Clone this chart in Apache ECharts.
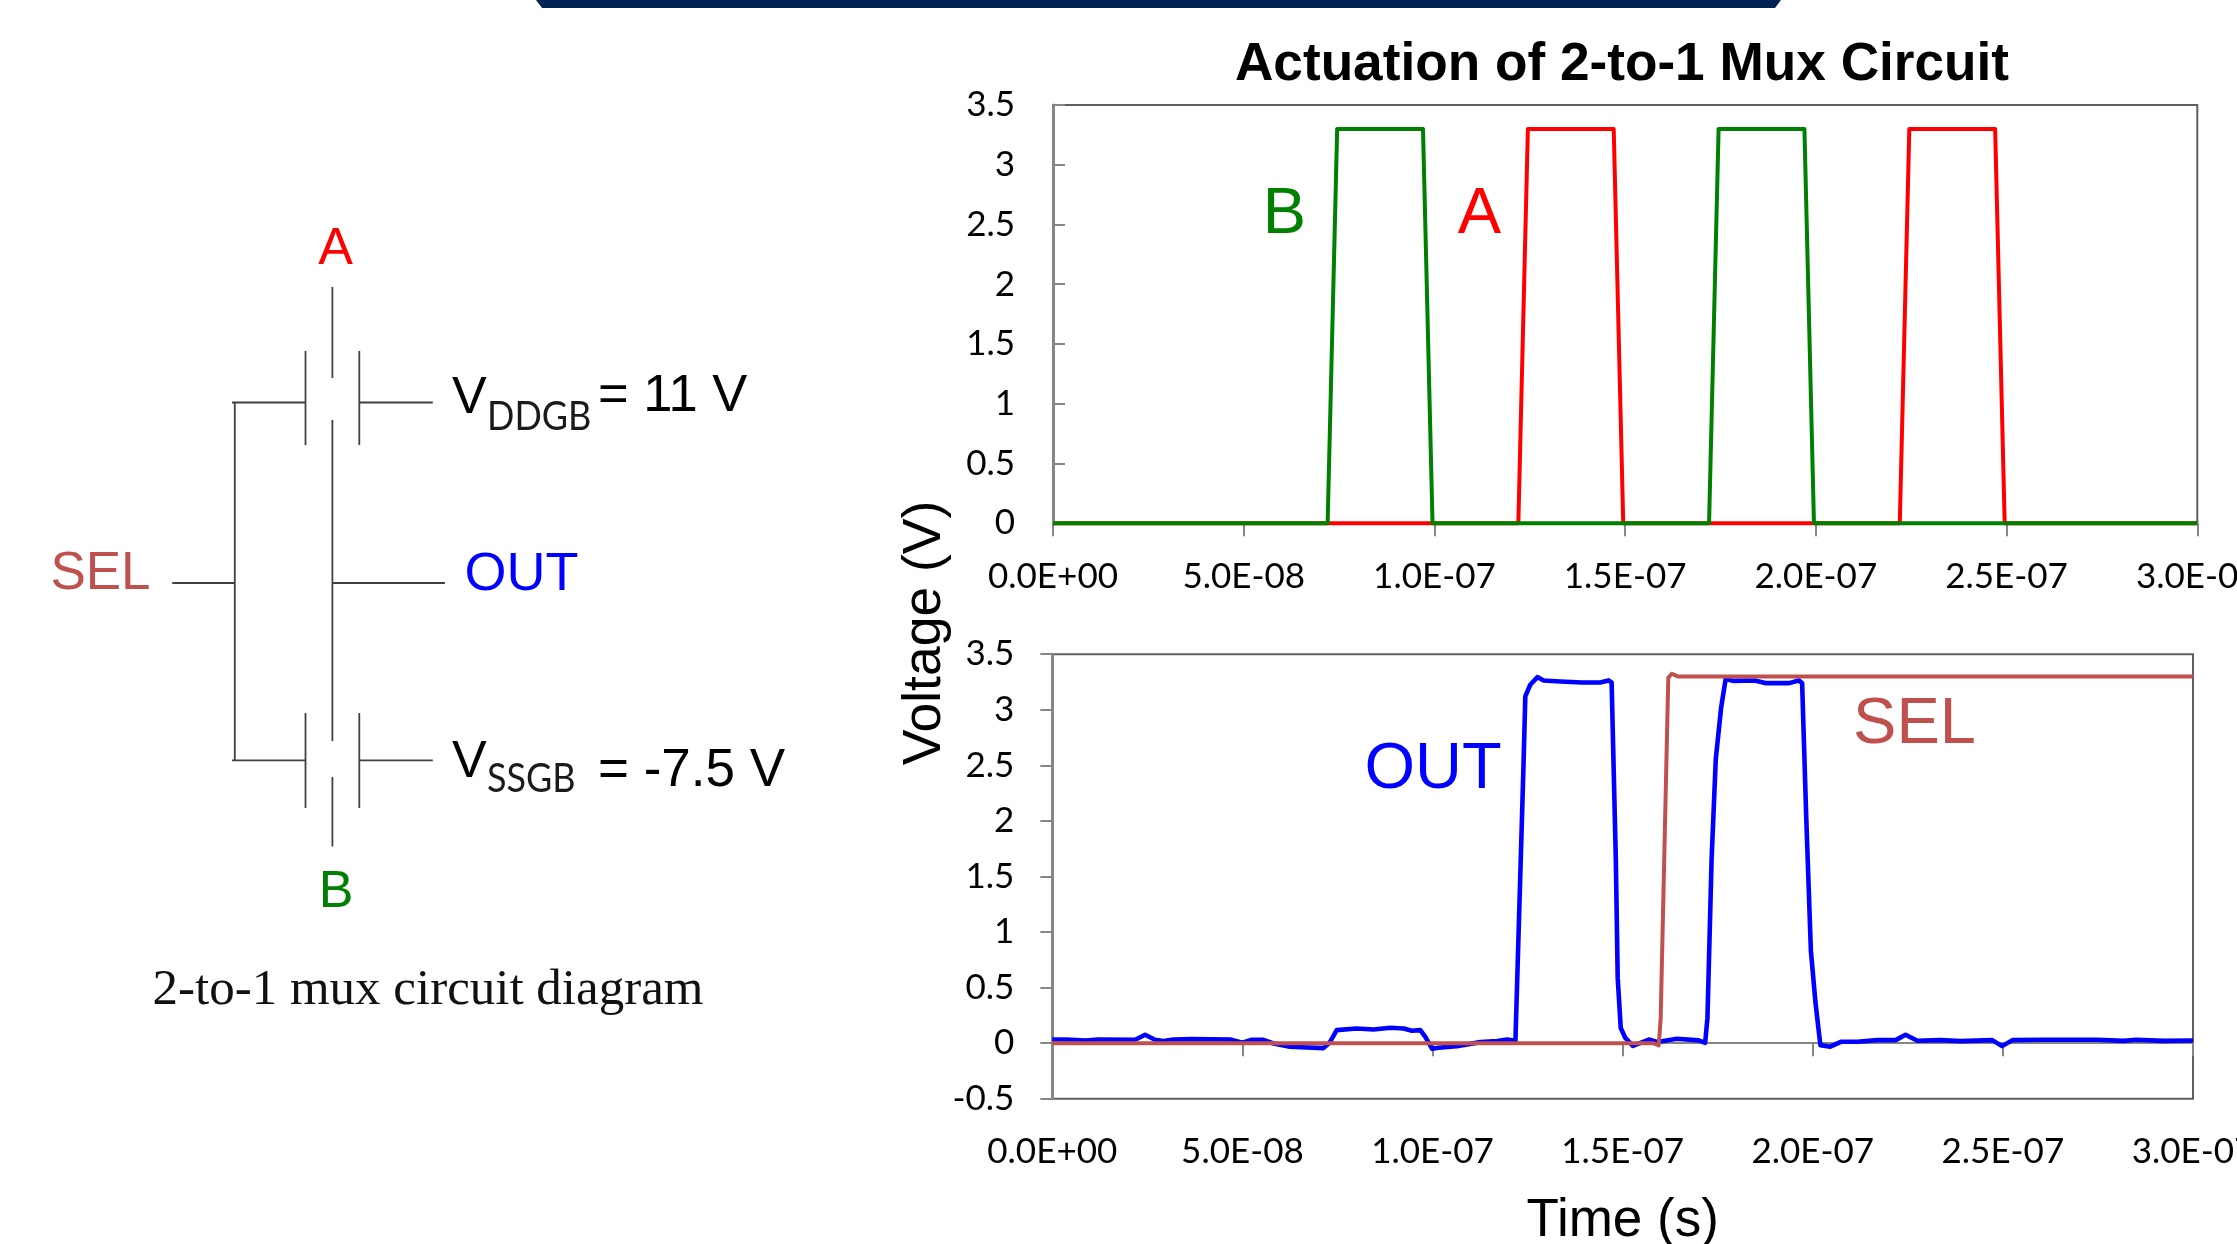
<!DOCTYPE html>
<html><head><meta charset="utf-8">
<style>html,body{margin:0;padding:0;background:#fff;overflow:hidden}#c{width:2237px;height:1244px}</style>
<script src="https://cdn.jsdelivr.net/npm/echarts@6/dist/echarts.min.js"></script>
</head><body><div id="c"></div>
<script>
// time in ns, voltage in V
const xTickLabels = ['0.0E+00','5.0E-08','1.0E-07','1.5E-07','2.0E-07','2.5E-07','3.0E-07'];
const timeA = [0,122,124.5,147,149.5,222,224.5,247,249.5,300];
const voltA = [0,0,3.3,3.3,0,0,3.3,3.3,0,0];
const timeB = [0,72,74.5,97,99.5,172,174.5,197,199.5,300];
const voltB = [0,0,3.3,3.3,0,0,3.3,3.3,0,0];
const timeOut = [0,3.8,8.6,12.1,21.8,24.4,27,29.2,31.9,36.7,46.8,50,52.5,55.5,58.2,62.5,71.3,72.9,74.8,80,84.5,88.9,92.4,94.6,96.8,98.1,99.9,101.6,106.4,112.6,117,119.6,121.8,123.9,124.4,125.7,127.6,129.2,133.6,139.3,144.1,146.3,147.1,148.2,148.7,149.5,150.7,152.7,156.9,159.1,164.3,170,171.7,172.3,173.4,174.5,175.9,177.1,179,184.7,187.5,193.8,196.3,197.2,198.3,199.5,200.7,202,204.6,207.4,211.7,217,221.8,224.4,227.5,233.6,238.9,247.2,249.8,252.5,259.9,274.8,281.8,285,292.3,300];
const voltOut = [.033,.033,.024,.033,.03,.075,.03,.02,.033,.036,.033,.003,.03,.03,-.003,-.033,-.045,.003,.117,.132,.123,.138,.132,.111,.117,.057,-.051,-.042,-.027,.009,.018,.033,.021,2.47,3.12,3.225,3.294,3.264,3.255,3.246,3.246,3.264,3.246,1.66,.585,.136,.047,-.025,.032,.011,.04,.025,.003,.225,1.66,2.56,3.02,3.277,3.26,3.264,3.24,3.24,3.264,3.24,2.016,.834,.369,-.018,-.032,.012,.012,.027,.027,.075,.021,.027,.018,.027,-.027,.027,.03,.03,.02,.03,.02,.024];
const timeSel = [0,158,159.5,160,162,162.9,164.5,300];
const voltSel = [0,0,-.02,.225,3.288,3.324,3.3,3.3];

const C = {a:'#ff0000', b:'#008000', out:'#0000ff', sel:'#c0504d', axis:'#868686', frame:'#5f5f5f', wire:'#404040'};
const SANS = '"Liberation Sans"', TICK = 'Lato';
const zip = (t,v) => t.map((x,i)=>[x,v[i]]);
const xLabel = v => xTickLabels[Math.round(v/50)];
const line = (name,t,v,color,xi,yi,width) => ({name,type:'line',xAxisIndex:xi,yAxisIndex:yi,data:zip(t,v),symbol:'none',clip:false,animation:false,silent:true,lineStyle:{color,width,cap:'butt',join:'round'}});
const label = {color:'#000',fontFamily:TICK,fontSize:35};
const xBase = {type:'value',min:0,max:300,interval:50,splitLine:{show:false}};
const yBase = {type:'value',interval:0.5,splitLine:{show:false}};

const txt = (s,x,y,size,color,extra={}) => ({type:'text',x,y,silent:true,rotation:extra.rotation||0,style:{text:s,fill:color,font:`${extra.weight||'normal'} ${size}px ${extra.family||SANS}`,textAlign:extra.align||'center',textVerticalAlign:'middle',textBaseline:'middle'},scaleX:extra.sx||1,scaleY:extra.sy||1});
const seg = (x1,y1,x2,y2) => ({type:'line',silent:true,shape:{x1,y1,x2,y2},style:{stroke:C.wire,lineWidth:1.8}});

const graphic = [
  {type:'polygon',silent:true,shape:{points:[[536,0],[542,8],[1775,8],[1781,0]]},style:{fill:'#002554'}},
  // schematic
  seg(332.4,287,332.4,378), seg(332.4,420,332.4,741), seg(332.4,777,332.4,846.5),
  seg(305.5,351,305.5,445), seg(359.3,351,359.3,445),
  seg(305.5,713,305.5,808), seg(359.3,713,359.3,808),
  seg(232,402.5,305.5,402.5), seg(359.3,402.5,432.8,402.5),
  seg(232,760.3,305.5,760.3), seg(359.3,760.3,432.8,760.3),
  seg(234.8,402.5,234.8,760.3), seg(172.2,583,234.8,583), seg(332.4,583,444.9,583),
  txt('A',335.7,250,52,C.a), txt('B',336,893,52,C.b),
  txt('SEL',100.5,574,53,C.sel), txt('OUT',521.5,575,54,C.out),
  txt('V',452,399,52,'#000',{align:'left'}), txt('DDGB',487,417,36,'#1a1a1a',{align:'left',family:TICK,sy:1.15}),
  txt('= 11 V',598,396.5,52.5,'#000',{align:'left'}),
  txt('V',452,762.5,52,'#000',{align:'left'}), txt('SSGB',487,779,36,'#1a1a1a',{align:'left',family:TICK,sy:1.15}),
  txt('= -7.5 V',598,771,53,'#000',{align:'left'}),
  txt('2-to-1 mux circuit diagram',428,991,51,'#111',{family:'"Liberation Serif"'}),
  // inline series labels
  txt('B',1284.5,215,65,C.b), txt('A',1479.5,215,65,C.a),
  txt('OUT',1433,770,65,C.out), txt('SEL',1914.5,725,65,C.sel),
  txt('Voltage (V)',925,633,53.5,'#000',{rotation:Math.PI/2})
];

const option = {
  backgroundColor:'#fff', animation:false,
  title:{text:'Actuation of 2-to-1 Mux Circuit',left:1617,top:60,textAlign:'center',textVerticalAlign:'middle',textStyle:{fontFamily:SANS,fontWeight:'bold',fontSize:53.2,color:'#000'}},
  grid:[
    {left:1053,top:105,width:1144.3,height:418.2,show:true,borderColor:C.frame,borderWidth:2,backgroundColor:'transparent',outerBoundsMode:'none',containLabel:false},
    {left:1052.3,top:654.2,width:1140.7,height:444.5,show:true,borderColor:C.frame,borderWidth:2,backgroundColor:'transparent',outerBoundsMode:'none',containLabel:false}
  ],
  xAxis:[
    {...xBase,gridIndex:0,axisLine:{show:true,lineStyle:{color:C.axis,width:2}},axisTick:{show:true,length:13,lineStyle:{color:C.axis,width:2}},
      axisLabel:{...label,margin:36,formatter:xLabel,showMinLabel:true,showMaxLabel:true,hideOverlap:false}},
    {...xBase,gridIndex:1,axisLine:{show:true,onZero:true,lineStyle:{color:C.axis,width:2}},axisTick:{show:true,length:13,lineStyle:{color:C.axis,width:2}},axisLabel:{show:false}},
    {...xBase,gridIndex:1,position:'bottom',axisLine:{show:false,onZero:false},axisTick:{show:false},
      axisLabel:{...label,margin:36,formatter:xLabel,showMinLabel:true,showMaxLabel:true,hideOverlap:false},
      name:'Time (s)',nameLocation:'middle',nameGap:96,nameTextStyle:{fontFamily:SANS,fontSize:53,color:'#000'}}
  ],
  yAxis:[
    {...yBase,gridIndex:0,min:0,max:3.5,axisLine:{show:true,lineStyle:{color:C.axis,width:3}},axisTick:{show:true,inside:true,length:12,lineStyle:{color:C.axis,width:2}},axisLabel:{...label,margin:38,padding:[5,0,0,0],hideOverlap:false,showMinLabel:true,showMaxLabel:true}},
    {...yBase,gridIndex:1,min:-0.5,max:3.5,axisLine:{show:true,onZero:false,lineStyle:{color:C.axis,width:3}},axisTick:{show:true,inside:false,length:12,lineStyle:{color:C.axis,width:2}},axisLabel:{...label,margin:38,padding:[4,0,0,0],hideOverlap:false,showMinLabel:true,showMaxLabel:true}}
  ],
  series:[
    line('A',timeA,voltA,C.a,0,0,4),
    line('B',timeB,voltB,C.b,0,0,4),
    line('OUT',timeOut,voltOut,C.out,1,1,4.6),
    line('SEL',timeSel,voltSel,C.sel,1,1,4)
  ],
  graphic
};
echarts.init(document.getElementById('c'),null,{renderer:'canvas'}).setOption(option);
</script></body></html>
